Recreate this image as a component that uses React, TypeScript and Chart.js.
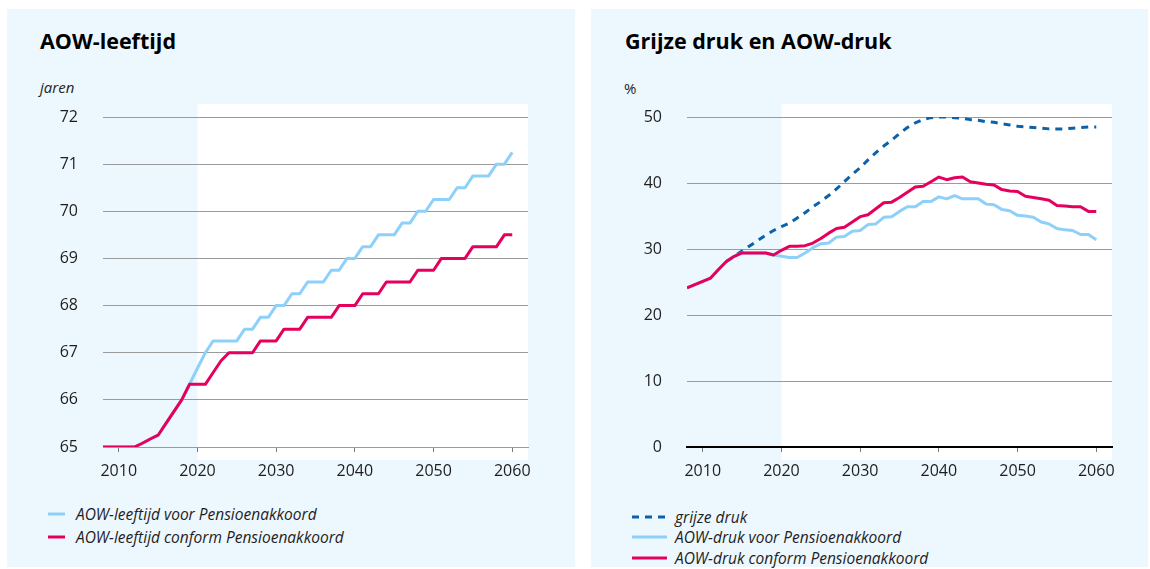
import React, { useEffect, useRef } from "react";
import { Chart, registerables } from "chart.js";

Chart.register(...registerables);

// ---------- data ----------
const YEARS = [
  2008, 2009, 2010, 2011, 2012, 2013, 2014, 2015, 2016, 2017, 2018, 2019,
  2020, 2021, 2022, 2023, 2024, 2025, 2026, 2027, 2028, 2029, 2030, 2031,
  2032, 2033, 2034, 2035, 2036, 2037, 2038, 2039, 2040, 2041, 2042, 2043,
  2044, 2045, 2046, 2047, 2048, 2049, 2050, 2051, 2052, 2053, 2054, 2055,
  2056, 2057, 2058, 2059, 2060,
];

// AOW-leeftijd (jaren)
const AOW_LEEFTIJD_VOOR = [
  65, 65, 65, 65, 65, 65.08, 65.17, 65.25, 65.5, 65.75, 66, 66.33,
  66.67, 67, 67.25, 67.25, 67.25, 67.25, 67.5, 67.5, 67.75, 67.75, 68, 68,
  68.25, 68.25, 68.5, 68.5, 68.5, 68.75, 68.75, 69, 69, 69.25, 69.25, 69.5,
  69.5, 69.5, 69.75, 69.75, 70, 70, 70.25, 70.25, 70.25, 70.5, 70.5, 70.75,
  70.75, 70.75, 71, 71, 71.25,
];
const AOW_LEEFTIJD_CONFORM = [
  65, 65, 65, 65, 65, 65.08, 65.17, 65.25, 65.5, 65.75, 66, 66.33,
  66.33, 66.33, 66.58, 66.83, 67, 67, 67, 67, 67.25, 67.25, 67.25, 67.5,
  67.5, 67.5, 67.75, 67.75, 67.75, 67.75, 68, 68, 68, 68.25, 68.25, 68.25,
  68.5, 68.5, 68.5, 68.5, 68.75, 68.75, 68.75, 69, 69, 69, 69, 69.25,
  69.25, 69.25, 69.25, 69.5, 69.5,
];

// Grijze druk en AOW-druk (%)
const GRIJZE_DRUK = [
  null, null, null, null, null, 28.1, 28.9, 29.7, 30.5, 31.3, 32.1, 32.8,
  33.4, 33.9, 34.7, 35.5, 36.4, 37.2, 38.1, 39.1, 40.2, 41.3, 42.3, 43.5,
  44.6, 45.6, 46.5, 47.5, 48.4, 49.1, 49.6, 49.9, 50.0, 50.0, 49.9, 49.8,
  49.6, 49.5, 49.3, 49.2, 49.0, 48.8, 48.6, 48.5, 48.4, 48.3, 48.2, 48.2,
  48.2, 48.3, 48.4, 48.5, 48.5,
];
const AOW_DRUK_VOOR = [
  24.1, 24.6, 25.1, 25.6, 26.9, 28.1, 28.9, 29.4, 29.4, 29.4, 29.4, 29.1,
  28.9, 28.7, 28.7, 29.4, 30.2, 30.8, 30.9, 31.8, 31.9, 32.7, 32.8, 33.7,
  33.8, 34.8, 34.9, 35.7, 36.4, 36.4, 37.2, 37.2, 37.9, 37.6, 38.1, 37.6,
  37.6, 37.6, 36.8, 36.7, 36.0, 35.8, 35.1, 35.0, 34.8, 34.1, 33.8, 33.1,
  32.9, 32.8, 32.2, 32.2, 31.4,
];
const AOW_DRUK_CONFORM = [
  24.1, 24.6, 25.1, 25.6, 26.9, 28.1, 28.9, 29.4, 29.4, 29.4, 29.4, 29.1,
  29.8, 30.4, 30.4, 30.5, 30.9, 31.6, 32.4, 33.1, 33.3, 34.1, 34.9, 35.2,
  36.1, 37.0, 37.1, 37.8, 38.6, 39.4, 39.5, 40.2, 40.9, 40.5, 40.8, 40.9,
  40.2, 40.0, 39.8, 39.7, 39.0, 38.8, 38.7, 38.0, 37.8, 37.6, 37.4, 36.6,
  36.5, 36.4, 36.4, 35.7, 35.7,
];

const X_TICKS = [2010, 2020, 2030, 2040, 2050, 2060];
const LEFT_Y_TICKS = [65, 66, 67, 68, 69, 70, 71, 72];
const RIGHT_Y_TICKS = [0, 10, 20, 30, 40, 50];
const X_MIN = 2008;
const X_MAX = 2062;
const PROJECTION_START = 2020;

// ---------- styling ----------
const LIGHT_BLUE = "#8dd0fa";
const MAGENTA = "#e5005d";
const DARK_BLUE = "#0b62ab";
const PANEL_BG = "#edf7fe";
const GRID = "#9b9b9b";
const FONT = "'Open Sans', sans-serif";
const TEXT = "#1e1e1e";

const toPoints = (vals: (number | null)[]) =>
  YEARS.map((yr, i) => ({ x: yr, y: vals[i] }));

const shadePlugin = {
  id: "projectionShade",
  beforeDraw(chart: any) {
    const { ctx, chartArea, scales } = chart;
    const x0 = scales.x.getPixelForValue(PROJECTION_START);
    ctx.save();
    ctx.fillStyle = "#ffffff";
    ctx.fillRect(
      x0,
      chartArea.top - 13,
      chartArea.right - x0,
      chartArea.bottom - chartArea.top + 26
    );
    ctx.restore();
  },
};

function buildOptions(o: {
  yMin: number;
  yMax: number;
  yTicks: number[];
  padRight: number;
  borderColor: string;
  borderWidth: number;
}) {
  return {
    animation: false,
    responsive: false,
    maintainAspectRatio: false,
    layout: { padding: { top: 108, right: o.padRight, bottom: 12, left: 0 } },
    plugins: {
      legend: { display: false },
      tooltip: { enabled: false },
      title: { display: false },
    },
    elements: {
      point: { radius: 0, hoverRadius: 0 },
      line: { tension: 0, borderWidth: 3, borderJoinStyle: "round" },
    },
    scales: {
      x: {
        type: "linear",
        min: X_MIN,
        max: X_MAX,
        afterBuildTicks: (s: any) => {
          s.ticks = X_TICKS.map((v) => ({ value: v }));
        },
        afterFit: (s: any) => {
          s.height = 40;
        },
        grid: {
          drawOnChartArea: false,
          drawTicks: true,
          tickLength: 5,
          color: "#7a7a7a",
          lineWidth: 1,
        },
        border: { display: true, color: o.borderColor, width: o.borderWidth },
        ticks: {
          padding: 10,
          color: TEXT,
          font: { family: FONT, size: 16 },
          maxRotation: 0,
          autoSkip: false,
          callback: (v: any) => String(v),
        },
      },
      y: {
        type: "linear",
        min: o.yMin,
        max: o.yMax,
        afterBuildTicks: (s: any) => {
          s.ticks = o.yTicks.map((v) => ({ value: v }));
        },
        afterFit: (s: any) => {
          s.width = 96;
        },
        grid: { drawTicks: false, color: GRID, lineWidth: 1 },
        border: { display: false },
        ticks: {
          padding: 25,
          color: TEXT,
          font: { family: FONT, size: 16 },
          callback: (v: any) => String(v),
        },
      },
    },
  };
}

function LeftChart() {
  const ref = useRef<HTMLCanvasElement | null>(null);
  useEffect(() => {
    if (!ref.current) return;
    const chart = new Chart(ref.current, {
      type: "line",
      data: {
        datasets: [
          {
            label: "AOW-leeftijd conform Pensioenakkoord",
            data: toPoints(AOW_LEEFTIJD_CONFORM),
            borderColor: MAGENTA,
            backgroundColor: MAGENTA,
            order: 0,
          },
          {
            label: "AOW-leeftijd voor Pensioenakkoord",
            data: toPoints(AOW_LEEFTIJD_VOOR),
            borderColor: LIGHT_BLUE,
            backgroundColor: LIGHT_BLUE,
            order: 1,
          },
        ],
      },
      options: buildOptions({
        yMin: 65,
        yMax: 72,
        yTicks: LEFT_Y_TICKS,
        padRight: 47,
        borderColor: GRID,
        borderWidth: 1,
      }) as any,
      plugins: [shadePlugin],
    });
    return () => chart.destroy();
  }, []);
  return (
    <canvas
      ref={ref}
      width={568}
      height={490}
      style={{ position: "absolute", left: 7, top: 9, width: 568, height: 490 }}
    />
  );
}

function RightChart() {
  const ref = useRef<HTMLCanvasElement | null>(null);
  useEffect(() => {
    if (!ref.current) return;
    const chart = new Chart(ref.current, {
      type: "line",
      data: {
        datasets: [
          {
            label: "AOW-druk conform Pensioenakkoord",
            data: toPoints(AOW_DRUK_CONFORM),
            borderColor: MAGENTA,
            backgroundColor: MAGENTA,
            order: 0,
          },
          {
            label: "AOW-druk voor Pensioenakkoord",
            data: toPoints(AOW_DRUK_VOOR),
            borderColor: LIGHT_BLUE,
            backgroundColor: LIGHT_BLUE,
            order: 1,
          },
          {
            label: "grijze druk",
            data: toPoints(GRIJZE_DRUK),
            borderColor: DARK_BLUE,
            backgroundColor: DARK_BLUE,
            borderDash: [7, 6],
            spanGaps: false,
            order: 2,
          },
        ],
      },
      options: buildOptions({
        yMin: 0,
        yMax: 50,
        yTicks: RIGHT_Y_TICKS,
        padRight: 36,
        borderColor: "#000000",
        borderWidth: 2,
      }) as any,
      plugins: [shadePlugin],
    });
    return () => chart.destroy();
  }, []);
  return (
    <canvas
      ref={ref}
      width={557}
      height={490}
      style={{ position: "absolute", left: 591, top: 9, width: 557, height: 490 }}
    />
  );
}

function LegendRow(props: {
  top: number;
  left: number;
  height: number;
  sampleWidth: number;
  gap: number;
  color: string;
  dashed?: boolean;
  label: string;
}) {
  const { top, left, height, sampleWidth, gap, color, dashed, label } = props;
  return (
    <div
      style={{
        position: "absolute",
        top,
        left,
        height,
        display: "flex",
        alignItems: "center",
        whiteSpace: "nowrap",
      }}
    >
      <svg width={sampleWidth} height={4} style={{ display: "block" }}>
        <line
          x1={0}
          y1={2}
          x2={sampleWidth}
          y2={2}
          stroke={color}
          strokeWidth={3}
          strokeDasharray={dashed ? "7 6" : undefined}
        />
      </svg>
      <span
        style={{
          marginLeft: gap,
          fontFamily: FONT,
          fontStyle: "italic",
          fontSize: 15.5,
          lineHeight: `${height}px`,
          color: TEXT,
        }}
      >
        {label}
      </span>
    </div>
  );
}

const titleStyle: React.CSSProperties = {
  position: "absolute",
  fontFamily: FONT,
  fontWeight: 700,
  fontSize: 21.5,
  lineHeight: "21px",
  color: "#000",
  whiteSpace: "nowrap",
};
const unitStyle: React.CSSProperties = {
  position: "absolute",
  fontFamily: FONT,
  fontStyle: "italic",
  fontSize: 15,
  lineHeight: "15px",
  color: TEXT,
  whiteSpace: "nowrap",
};

export default function App() {
  return (
    <div
      style={{
        position: "absolute",
        left: 0,
        top: 0,
        width: 1150,
        height: 569,
        background: "#ffffff",
        overflow: "hidden",
      }}
    >
      <div
        style={{
          position: "absolute",
          left: 7,
          top: 9,
          width: 568,
          height: 558,
          background: PANEL_BG,
        }}
      />
      <div
        style={{
          position: "absolute",
          left: 591,
          top: 9,
          width: 557,
          height: 558,
          background: PANEL_BG,
        }}
      />
      <div style={{ ...titleStyle, left: 40, top: 30 }}>AOW-leeftijd</div>
      <div style={{ ...titleStyle, left: 625, top: 30 }}>Grijze druk en AOW-druk</div>
      <div style={{ ...unitStyle, left: 40, top: 80 }}>jaren</div>
      <div style={{ ...unitStyle, fontStyle: "normal", left: 624, top: 81 }}>%</div>

      <LeftChart />
      <RightChart />

      <LegendRow
        top={503}
        left={48}
        height={22}
        sampleWidth={17}
        gap={11}
        color={LIGHT_BLUE}
        label="AOW-leeftijd voor Pensioenakkoord"
      />
      <LegendRow
        top={526}
        left={48}
        height={22}
        sampleWidth={17}
        gap={11}
        color={MAGENTA}
        label="AOW-leeftijd conform Pensioenakkoord"
      />
      <LegendRow
        top={507}
        left={632}
        height={20}
        sampleWidth={35}
        gap={8}
        color={DARK_BLUE}
        dashed
        label="grijze druk"
      />
      <LegendRow
        top={527}
        left={632}
        height={20}
        sampleWidth={35}
        gap={8}
        color={LIGHT_BLUE}
        label="AOW-druk voor Pensioenakkoord"
      />
      <LegendRow
        top={548}
        left={632}
        height={20}
        sampleWidth={35}
        gap={8}
        color={MAGENTA}
        label="AOW-druk conform Pensioenakkoord"
      />
    </div>
  );
}
